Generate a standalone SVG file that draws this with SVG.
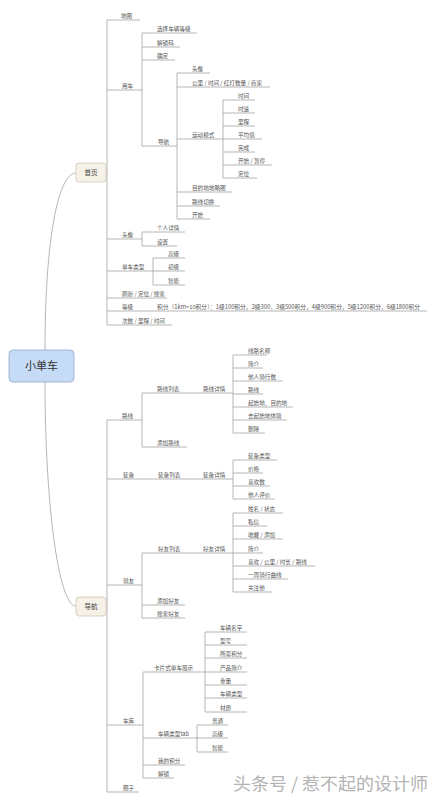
<svg xmlns="http://www.w3.org/2000/svg" width="436" height="800" viewBox="0 0 436 800">
<style>
text{font-family:"Noto Sans CJK SC","Noto Sans",sans-serif;font-size:5.6px;fill:#555}
.u{stroke:#a3a3a3;stroke-width:0.8;fill:none}
.c{stroke:#a3a3a3;stroke-width:0.8;fill:none}
.box{fill:#f6f2e8;stroke:#cfc6b4;stroke-width:0.8}
.bt{font-size:6.5px;text-anchor:middle;fill:#444}
</style>
<rect width="436" height="800" fill="#fff"/>
<g id="connectors">
<path class="c" d="M45,350 C45,240 58,173 76,173"/>
<path class="c" d="M45,382 C45,500 58,606 76,606"/>
<path class="c" d="M106,172.5H107 M107,20V325"/>
<path class="c" d="M142,33V146 M177,73V219 M223,100V178 M142,232V246 M153,258V285"/>
<path class="c" d="M106,606H107 M107,420V792"/>
<path class="c" d="M142,393V447 M233,355V433 M233,460V499 M142,553V618 M233,513V592 M143,672V778 M205,632V712 M197,725V752"/>
</g>
<g id="root"><rect x="9" y="350" width="65" height="32" rx="4" fill="#c6dbf6" stroke="#8fa9cc" stroke-width="0.8"/><text x="41.5" y="370" style="font-size:11px;text-anchor:middle;fill:#333">小单车</text></g>
<g id="shouye"><rect class="box" x="76" y="163" width="30" height="19" rx="3"/><text class="bt" x="91" y="175">首页</text></g>
<g id="daohang"><rect class="box" x="76" y="597" width="30" height="19" rx="3"/><text class="bt" x="91" y="609">导航</text></g>

<g id="ditu"><path class="u" d="M107,20H140"/><text x="121" y="18">地图</text></g>
<g id="yongche"><path class="u" d="M107,90H142"/><text x="122" y="88">用车</text></g>
<g id="yc1"><path class="u" d="M142,33H197"/><text x="157" y="31">选择车辆等级</text></g>
<g id="yc2"><path class="u" d="M142,47H180"/><text x="157" y="45">解锁码</text></g>
<g id="yc3"><path class="u" d="M142,60H175"/><text x="157" y="58">确定</text></g>
<g id="yc4"><path class="u" d="M142,146H177"/><text x="158" y="144">导航</text></g>
<g id="dh1"><path class="u" d="M177,73H210"/><text x="192" y="71">头像</text></g>
<g id="dh2"><path class="u" d="M177,87H270"/><text x="192" y="85">公里 / 时间 / 红灯数量 / 商家</text></g>
<g id="dh3"><path class="u" d="M177,139H223"/><text x="192" y="137">运动模式</text></g>
<g id="dh4"><path class="u" d="M177,192H232"/><text x="192" y="190">目的地地略图</text></g>
<g id="dh5"><path class="u" d="M177,206H220"/><text x="192" y="204">路线切换</text></g>
<g id="dh6"><path class="u" d="M177,219H210"/><text x="192" y="217">开始</text></g>
<g id="yd1"><path class="u" d="M223,100H255"/><text x="238" y="98">时间</text></g>
<g id="yd2"><path class="u" d="M223,113H255"/><text x="238" y="111">时速</text></g>
<g id="yd3"><path class="u" d="M223,126H255"/><text x="238" y="124">里程</text></g>
<g id="yd4"><path class="u" d="M223,139H262"/><text x="238" y="137">平均值</text></g>
<g id="yd5"><path class="u" d="M223,152H255"/><text x="238" y="150">完成</text></g>
<g id="yd6"><path class="u" d="M223,165H272"/><text x="238" y="163">开始 / 暂停</text></g>
<g id="yd7"><path class="u" d="M223,178H257"/><text x="238" y="176">定位</text></g>
<g id="touxiang"><path class="u" d="M107,239H142"/><text x="122" y="237">头像</text></g>
<g id="tx1"><path class="u" d="M142,232H185"/><text x="157" y="230">个人详情</text></g>
<g id="tx2"><path class="u" d="M142,246H177"/><text x="157" y="244">设置</text></g>
<g id="dclx"><path class="u" d="M107,271H153"/><text x="122" y="269">单车类型</text></g>
<g id="lx1"><path class="u" d="M153,258H185"/><text x="168" y="256">高级</text></g>
<g id="lx2"><path class="u" d="M153,271H185"/><text x="168" y="269">初级</text></g>
<g id="lx3"><path class="u" d="M153,285H185"/><text x="168" y="283">智能</text></g>
<g id="shuaxin"><path class="u" d="M107,298H167"/><text x="122" y="296">刷新 / 定位 / 搜索</text></g>
<g id="dengji"><path class="u" d="M107,311H153"/><text x="122" y="309">等级</text></g>
<g id="jifen"><path class="u" d="M153,311H427"/><text x="157" y="309" textLength="263" lengthAdjust="spacingAndGlyphs">积分（1km=10积分）：1级100积分，2级300，3级500积分，4级900积分，5级1200积分，6级1800积分</text></g>
<g id="cishu"><path class="u" d="M107,325H172"/><text x="122" y="323">次数 / 里程 / 时间</text></g>

<g id="luxian"><path class="u" d="M107,420H142"/><text x="122" y="418">路线</text></g>
<g id="lxlb"><path class="u" d="M142,393H192"/><text x="157" y="391">路线列表</text></g>
<g id="lxxq"><path class="u" d="M192,393H233"/><text x="203" y="391">路线详情</text></g>
<g id="tjlx"><path class="u" d="M142,447H187"/><text x="157" y="445">添加路线</text></g>
<g id="lq1"><path class="u" d="M233,355H267"/><text x="248" y="353">线路名称</text></g>
<g id="lq2"><path class="u" d="M233,368H263"/><text x="248" y="366">简介</text></g>
<g id="lq3"><path class="u" d="M233,381H283"/><text x="248" y="379">他人骑行数</text></g>
<g id="lq4"><path class="u" d="M233,394H263"/><text x="248" y="392">路线</text></g>
<g id="lq5"><path class="u" d="M233,407H293"/><text x="248" y="405">起始地、目的地</text></g>
<g id="lq6"><path class="u" d="M233,420H287"/><text x="248" y="418">去起始地体验</text></g>
<g id="lq7"><path class="u" d="M233,433H265"/><text x="248" y="431">删除</text></g>
<g id="zhuangbei"><path class="u" d="M107,479H142"/><text x="123" y="477">装备</text></g>
<g id="zblb"><path class="u" d="M142,479H192"/><text x="158" y="477">装备列表</text></g>
<g id="zbxq"><path class="u" d="M192,479H233"/><text x="203" y="477">装备详情</text></g>
<g id="zq1"><path class="u" d="M233,460H277"/><text x="248" y="458">装备类型</text></g>
<g id="zq2"><path class="u" d="M233,473H263"/><text x="248" y="471">价格</text></g>
<g id="zq3"><path class="u" d="M233,486H270"/><text x="248" y="484">喜欢数</text></g>
<g id="zq4"><path class="u" d="M233,499H275"/><text x="248" y="497">他人评价</text></g>
<g id="qiyou"><path class="u" d="M107,585H142"/><text x="123" y="583">骑友</text></g>
<g id="hylb"><path class="u" d="M142,553H192"/><text x="158" y="551">好友列表</text></g>
<g id="hyxq"><path class="u" d="M192,553H233"/><text x="203" y="551">好友详情</text></g>
<g id="tjhy"><path class="u" d="M142,605H185"/><text x="157" y="603">添加好友</text></g>
<g id="sshy"><path class="u" d="M142,618H185"/><text x="157" y="616">搜索好友</text></g>
<g id="hq1"><path class="u" d="M233,513H283"/><text x="248" y="511">姓名 / 状态</text></g>
<g id="hq2"><path class="u" d="M233,526H267"/><text x="248" y="524">私信</text></g>
<g id="hq3"><path class="u" d="M233,539H283"/><text x="248" y="537">收藏 / 添加</text></g>
<g id="hq4"><path class="u" d="M233,553H263"/><text x="248" y="551">简介</text></g>
<g id="hq5"><path class="u" d="M233,566H315"/><text x="248" y="564">喜欢 / 公里 / 时长 / 路线</text></g>
<g id="hq6"><path class="u" d="M233,579H288"/><text x="248" y="577">一周骑行曲线</text></g>
<g id="hq7"><path class="u" d="M233,592H272"/><text x="248" y="590">关注他</text></g>
<g id="cheku"><path class="u" d="M107,725H143"/><text x="123" y="723">车库</text></g>
<g id="kpzs"><path class="u" d="M143,672H205"/><text x="154" y="670">卡片式单车展示</text></g>
<g id="kp1"><path class="u" d="M205,632H247"/><text x="220" y="630">车辆名字</text></g>
<g id="kp2"><path class="u" d="M205,645H247"/><text x="220" y="643">型号</text></g>
<g id="kp3"><path class="u" d="M205,658H247"/><text x="220" y="656">所需积分</text></g>
<g id="kp4"><path class="u" d="M205,672H247"/><text x="220" y="670">产品简介</text></g>
<g id="kp5"><path class="u" d="M205,685H247"/><text x="220" y="683">重量</text></g>
<g id="kp6"><path class="u" d="M205,698H247"/><text x="220" y="696">车辆类型</text></g>
<g id="kp7"><path class="u" d="M205,712H247"/><text x="220" y="710">材质</text></g>
<g id="cltab"><path class="u" d="M143,738H197"/><text x="158" y="736">车辆类型tab</text></g>
<g id="tb1"><path class="u" d="M197,725H228"/><text x="212" y="723">普通</text></g>
<g id="tb2"><path class="u" d="M197,738H228"/><text x="212" y="736">高级</text></g>
<g id="tb3"><path class="u" d="M197,752H228"/><text x="212" y="750">智能</text></g>
<g id="wdjf"><path class="u" d="M143,765H185"/><text x="158" y="763">我的积分</text></g>
<g id="jiesuo"><path class="u" d="M143,778H174"/><text x="158" y="776">解锁</text></g>
<g id="quanzi"><path class="u" d="M107,792H139"/><text x="123" y="790">圈子</text></g>

<text x="233" y="790" style="font-size:17px;fill:#b3b3b3" textLength="195" lengthAdjust="spacingAndGlyphs">头条号 / 惹不起的设计师</text>
</svg>
